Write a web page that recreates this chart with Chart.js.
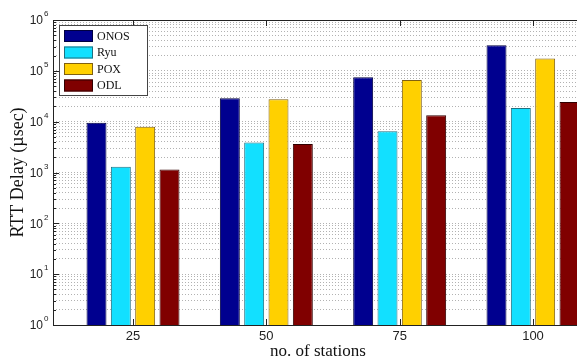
<!DOCTYPE html>
<html lang="en">
<head>
    <meta charset="UTF-8">
    <title>RTT Delay</title>
    <script src="https://cdn.jsdelivr.net/npm/chart.js"></script>
    <style>
        html, body { margin: 0; padding: 0; background: #fff; overflow: hidden; }
        #wrap { position: relative; width: 625px; height: 363px; }
    </style>
</head>
<body>
    <div id="wrap"><canvas id="rttChart"></canvas></div>
    <script>
        // data (usec)
        const stations = ['25', '50', '75', '100'];
        const controllers = ['ONOS', 'Ryu', 'POX', 'ODL'];
        const onos = [9500, 29000, 75000, 320000];
        const ryu = [1300, 3900, 6500, 18500];
        const pox = [7900, 27500, 66000, 175000];
        const odl = [1150, 3650, 13400, 24500];
        const yExponents = [0, 1, 2, 3, 4, 5, 6];

        const fills = ['#00008f', '#12e0ff', '#ffd000', '#800000'];
        const edges = ['#000040', '#207080', '#806010', '#300000'];
        const series = [onos, ryu, pox, odl];

        const datasets = series.map((vals, i) => ({
            label: controllers[i],
            data: vals.map((v, j) => ({ x: j + 1, y: v })),
            backgroundColor: fills[i],
            borderColor: edges[i],
            borderWidth: 1,
            categoryPercentage: 0.73,
            barPercentage: 0.82
        }));

        // y ticks: 1..9 x 10^k, labels only at powers of ten
        const logTicks = [];
        yExponents.forEach(e => {
            for (let m = 1; m <= 9; m++) {
                if (e === yExponents[yExponents.length - 1] && m > 1) break;
                logTicks.push({ value: m * Math.pow(10, e), major: m === 1 });
            }
        });

        const framePlugin = {
            id: 'frame',
            afterDraw(chart) {
                const c = chart.ctx;
                const a = chart.chartArea;
                const ys = chart.scales.y;
                const xs = chart.scales.x;
                c.save();
                c.strokeStyle = '#222';
                c.lineWidth = 1;
                c.strokeRect(a.left + 0.5, a.top + 0.5, a.right - a.left, a.bottom - a.top);

                // inside ticks on left axis
                logTicks.forEach(t => {
                    const py = Math.round(ys.getPixelForValue(t.value)) + 0.5;
                    const len = t.major ? 6 : 3;
                    c.beginPath();
                    c.moveTo(a.left, py);
                    c.lineTo(a.left + len, py);
                    c.stroke();
                });
                // ticks on top and bottom at categories
                stations.forEach((s, i) => {
                    const px = Math.round(xs.getPixelForValue(i + 1)) + 0.5;
                    c.beginPath();
                    c.moveTo(px, a.top);
                    c.lineTo(px, a.top + 6);
                    c.moveTo(px, a.bottom);
                    c.lineTo(px, a.bottom - 6);
                    c.stroke();
                });

                // y tick labels with superscript exponent
                c.fillStyle = '#222';
                c.textBaseline = 'middle';
                yExponents.forEach(e => {
                    const py = ys.getPixelForValue(Math.pow(10, e));
                    c.font = '12px "Liberation Sans", Arial, sans-serif';
                    c.textAlign = 'right';
                    c.fillText('10', a.left - 10, py + 1);
                    c.font = '8px "Liberation Sans", Arial, sans-serif';
                    c.textAlign = 'left';
                    c.fillText(String(e), a.left - 9, py - 6);
                });

                // axis titles
                c.fillStyle = '#111';
                c.font = '17px "Liberation Serif", "Times New Roman", serif';
                c.textAlign = 'center';
                c.fillText('no. of stations', 318, 352);
                c.save();
                c.translate(18, (a.top + a.bottom) / 2);
                c.rotate(-Math.PI / 2);
                c.font = '18px "Liberation Serif", "Times New Roman", serif';
                c.fillText('RTT Delay (\u00b5sec)', 0, 0);
                c.restore();

                // legend inside the plot
                c.fillStyle = '#fff';
                c.fillRect(a.left + 6, a.top + 5, 88, 70);
                c.strokeStyle = '#444';
                c.strokeRect(a.left + 6.5, a.top + 5.5, 88, 70);
                chart.data.datasets.forEach((ds, i) => {
                    const ty = a.top + 10 + i * 16.5;
                    c.fillStyle = ds.backgroundColor;
                    c.fillRect(a.left + 11, ty, 29, 12);
                    c.strokeStyle = ds.borderColor;
                    c.strokeRect(a.left + 11.5, ty + 0.5, 28, 11);
                    c.fillStyle = '#111';
                    c.font = '12px "Liberation Serif", "Times New Roman", serif';
                    c.textAlign = 'left';
                    c.fillText(ds.label, a.left + 44, ty + 6.5);
                });
                c.restore();
            }
        };

        const ctx = document.getElementById('rttChart').getContext('2d');
        const rttChart = new Chart(ctx, {
            type: 'bar',
            data: { datasets: datasets },
            options: {
                responsive: true,
                maintainAspectRatio: false,
                animation: false,
                layout: { padding: { top: 20, right: 12, left: 0, bottom: 0 } },
                plugins: {
                    legend: { display: false },
                    tooltip: { enabled: false }
                },
                scales: {
                    x: {
                        type: 'linear',
                        min: 0.4,
                        max: 4.6,
                        offset: false,
                        grid: { display: false, drawTicks: false },
                        border: { display: false },
                        afterBuildTicks: scale => {
                            scale.ticks = stations.map((s, i) => ({ value: i + 1 }));
                        },
                        ticks: {
                            color: '#222',
                            font: { family: '"Liberation Sans", Arial, sans-serif', size: 13 },
                            padding: 4,
                            maxRotation: 0,
                            callback: v => stations[v - 1]
                        },
                        afterFit: scale => { scale.height = 38; }
                    },
                    y: {
                        type: 'logarithmic',
                        min: 1,
                        max: 1e6,
                        afterBuildTicks: scale => {
                            scale.ticks = logTicks.map(t => ({ value: t.value }));
                        },
                        ticks: { display: false },
                        grid: {
                            color: 'rgba(0,0,0,0.3)',
                            lineWidth: 1,
                            drawTicks: false
                        },
                        border: { display: false, dash: [1, 2] },
                        afterFit: scale => { scale.width = 53; }
                    }
                }
            },
            plugins: [framePlugin]
        });
    </script>
</body>
</html>
